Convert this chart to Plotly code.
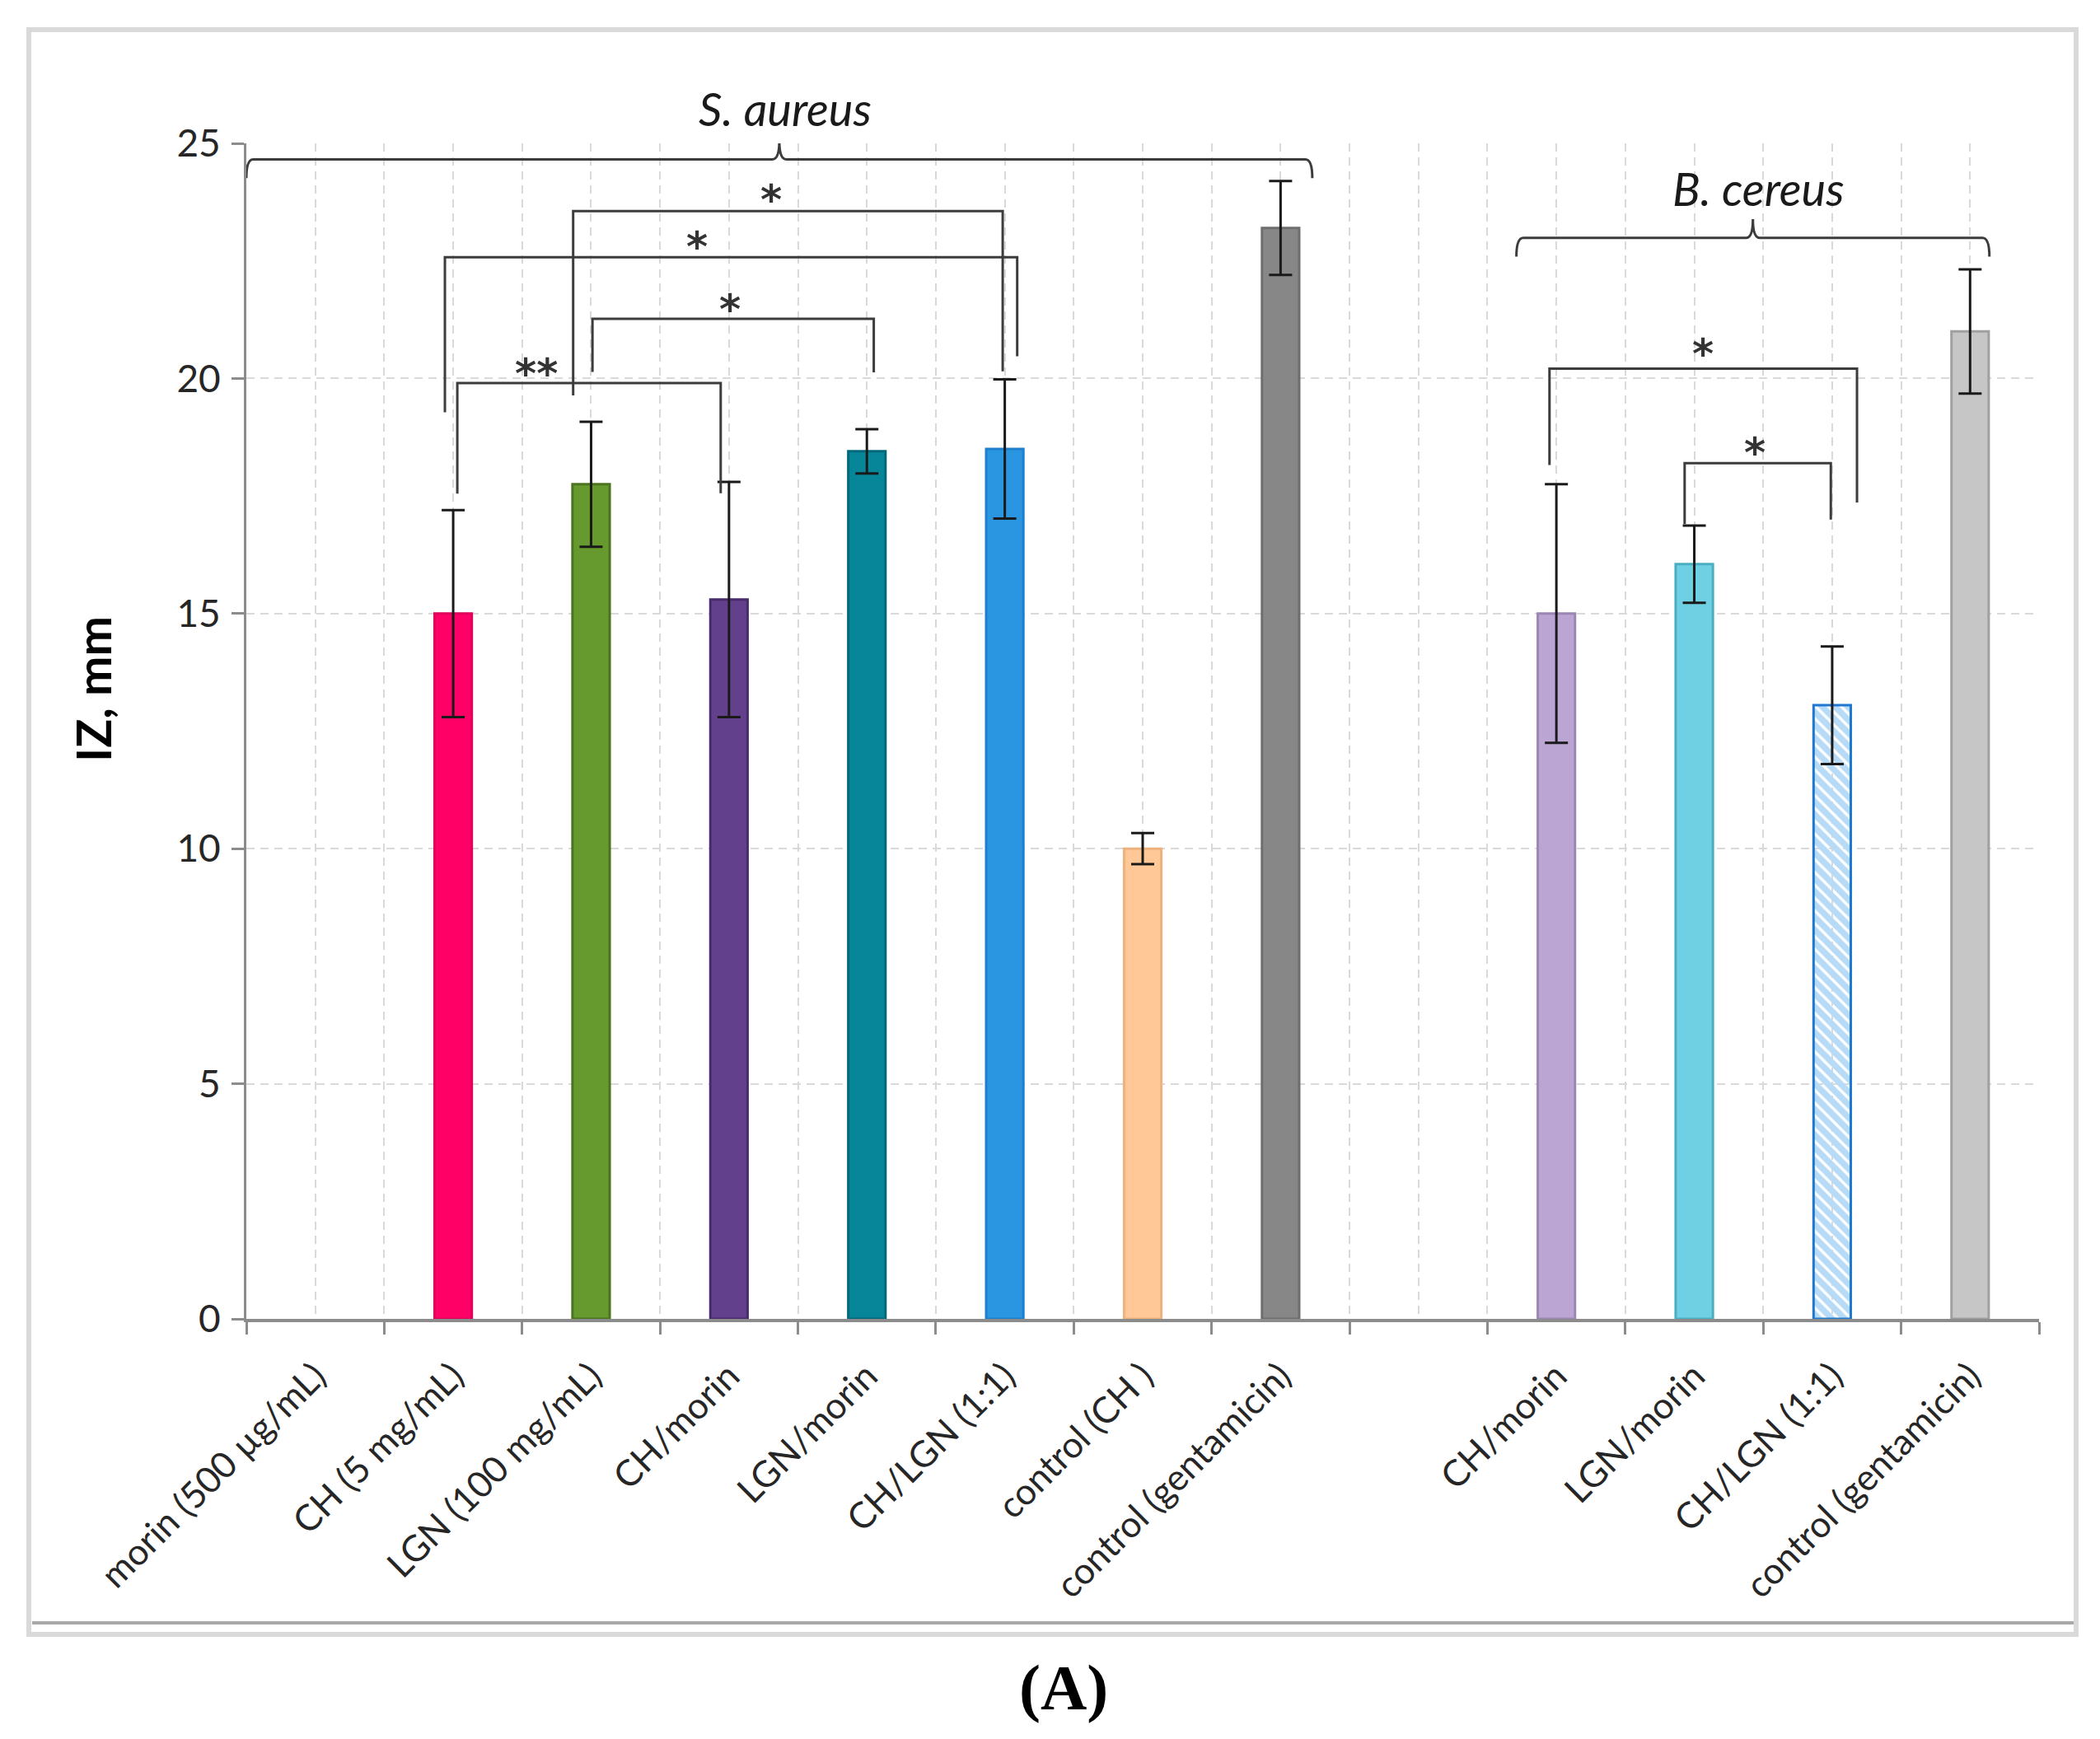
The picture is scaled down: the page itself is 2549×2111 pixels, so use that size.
import plotly.graph_objects as go

# ---------------- data ----------------
categories = ["morin (500 µg/mL)", "CH (5 mg/mL)", "LGN (100 mg/mL)", "CH/morin",
              "LGN/morin", "CH/LGN (1:1)", "control (CH )", "control (gentamicin)",
              "", "CH/morin", "LGN/morin", "CH/LGN (1:1)", "control (gentamicin)"]
iz_mm = [None, 15.0, 17.75, 15.3, 18.45, 18.5, 10.0, 23.2,
         None, 15.0, 16.05, 13.05, 21.0]
iz_err = [None, 2.2, 1.33, 2.5, 0.47, 1.48, 0.33, 1.0,
          None, 2.75, 0.82, 1.25, 1.32]
bar_fill = [None, "#FF0066", "#66992E", "#63408C", "#078599", "#2A96E2", "#FFC896", "#878787",
            None, "#BBA5D3", "#70D0E3", "#B7DBF6", "#C6C6C6"]
bar_edge = [None, "#E0005A", "#4B7320", "#4A2C6C", "#00687A", "#1E80CC", "#EDB27E", "#6E6E6E",
            None, "#9C87B4", "#4AAEC2", "#1F78D0", "#A0A0A0"]
bar_hatch = ["", "", "", "", "", "", "", "", "", "", "", "\\", ""]
hatch_color = [None, None, None, None, None, None, None, None,
               None, None, None, "#1F7CD4", None]
y_ticks = [0, 5, 10, 15, 20, 25]
y_range = [0, 25]

# significance brackets
sig_labels = ["**", "*", "*", "*", "*", "*"]
sig_left = [1, 2, 1, 2, 9, 10]
sig_right = [3, 4, 5, 5, 11, 11]
sig_top = [19.9, 21.27, 22.58, 23.56, 20.21, 18.2]
sig_left_foot = [17.55, 20.14, 19.28, 19.64, 18.16, 16.9]
sig_right_foot = [17.56, 20.13, 20.47, 20.15, 17.36, 17.0]
sig_star_y = [20.34, 21.71, 23.04, 24.03, 20.76, 18.65]

# group braces
group_names = ["<i>S. aureus</i>", "<i>B. cereus</i>"]
group_first = [0, 9]
group_last = [7, 12]
group_y = [24.66, 22.99]
group_label_y = [25.75, 24.05]

# ---------------- layout geometry (pixels) ----------------
W, H = 2549, 2111
L, R, T, B = 291, 82, 166, 518
PW, PH = W - L - R, H - T - B


def px(x):
    return (x - L) / PW


def py(y):
    return (H - B - y) / PH


def y_paper(v):
    return (v - y_range[0]) / (y_range[1] - y_range[0])


# style offsets of bracket legs relative to bar centres
leg_dx_left = [0.03, 0.01, -0.06, -0.13, -0.05, -0.07]
leg_dx_right = [-0.06, 0.05, 0.09, -0.015, 0.18, -0.01]
star_frac = [0.30, 0.49, 0.44, 0.46, 0.50, 0.48]

idx = [i for i, v in enumerate(iz_mm) if v is not None]

fig = go.Figure()
fig.add_trace(go.Bar(
    x=idx,
    y=[iz_mm[i] for i in idx],
    width=0.27,
    marker=dict(
        color=[bar_fill[i] for i in idx],
        line=dict(color=[bar_edge[i] for i in idx], width=3),
        pattern=dict(shape=[bar_hatch[i] for i in idx],
                     fgcolor=[hatch_color[i] or bar_fill[i] for i in idx],
                     bgcolor=[bar_fill[i] for i in idx],
                     size=11, solidity=0.7, fillmode="replace"),
    ),
    error_y=dict(type="data", array=[iz_err[i] for i in idx], color="#1A1A1A",
                 thickness=3, width=14),
    showlegend=False,
))

grid = dict(gridcolor="#D9D9D9", gridwidth=2, griddash="10px,7px")
fig.update_xaxes(
    range=[-0.5, len(categories) - 0.5],
    tickmode="array", tickvals=list(range(len(categories))), ticktext=categories,
    tickangle=-45, ticks="", showgrid=True, **grid,
    showline=True, linecolor="#8C8C8C", linewidth=4, zeroline=False,
    tickfont=dict(family="Lato", size=44, color="#262626"),
    ticklabelstandoff=22,
    minor=dict(tickmode="array", tickvals=[i - 0.5 for i in range(len(categories) + 1)],
               ticks="outside", ticklen=15, tickwidth=3, tickcolor="#8C8C8C",
               showgrid=True, **grid),
)
fig.update_yaxes(
    range=y_range, tickmode="array", tickvals=y_ticks,
    ticks="outside", ticklen=15, tickwidth=3, tickcolor="#8C8C8C",
    showline=True, linecolor="#8C8C8C", linewidth=3, zeroline=False,
    showgrid=True, **grid,
    tickfont=dict(family="Lato", size=46, color="#262626"),
    ticklabelstandoff=4,
)

shapes = []
annotations = []
line_style = dict(color="#3C3C3C", width=3)

# significance brackets
for k in range(len(sig_labels)):
    xl = sig_left[k] + leg_dx_left[k]
    xr = sig_right[k] + leg_dx_right[k]
    path = (f"M {xl},{sig_left_foot[k]} L {xl},{sig_top[k]} "
            f"L {xr},{sig_top[k]} L {xr},{sig_right_foot[k]}")
    shapes.append(dict(type="path", xref="x", yref="y", path=path, line=line_style,
                       layer="above"))
    annotations.append(dict(x=xl + star_frac[k] * (xr - xl), y=sig_star_y[k], xref="x", yref="y",
                            xanchor="center", yanchor="middle",
                            text="<b>" + sig_labels[k] + "</b>", showarrow=False, yshift=-14,
                            font=dict(family="DejaVu Sans", size=50, color="#333333")))

# group braces
brace_left_dx = [None, -0.29]
brace_right_dx = [0.23, 0.14]
for g in range(len(group_names)):
    x0 = -0.5 if brace_left_dx[g] is None else group_first[g] + brace_left_dx[g]
    x1 = group_last[g] + brace_right_dx[g]
    xm = (x0 + x1) / 2
    y = group_y[g]
    drop, rise, d = 0.4, 0.4, 0.05
    path = (f"M {x0},{y - drop} Q {x0},{y} {x0 + d},{y} L {xm - d},{y} "
            f"Q {xm},{y} {xm},{y + rise} Q {xm},{y} {xm + d},{y} "
            f"L {x1 - d},{y} Q {x1},{y} {x1},{y - drop}")
    shapes.append(dict(type="path", xref="x", yref="y", path=path, line=line_style,
                       layer="above"))
    annotations.append(dict(x=xm + 0.04, y=y_paper(group_label_y[g]), xref="x", yref="paper",
                            xanchor="center", yanchor="middle",
                            text=group_names[g], showarrow=False,
                            font=dict(family="Lato", size=56, color="#1A1A1A")))

# chart frame (Excel-style border)
shapes.append(dict(type="rect", xref="paper", yref="paper",
                   x0=px(27), x1=px(2512), y0=py(1976), y1=py(28),
                   line=dict(color="#D9D9D9", width=6), layer="below"))
shapes.append(dict(type="line", xref="paper", yref="paper",
                   x0=px(31), x1=px(2509), y0=py(1962), y1=py(1962),
                   line=dict(color="#A8A8A8", width=4), layer="below"))

# axis title and panel label
annotations.append(dict(x=px(104), y=py(829), xref="paper", yref="paper",
                        xanchor="center", yanchor="middle",
                        text="<b>IZ, mm</b>", textangle=-90, showarrow=False,
                        font=dict(family="Lato", size=58, color="#000000")))
annotations.append(dict(x=px(1283), y=py(2040), xref="paper", yref="paper",
                        xanchor="center", yanchor="middle",
                        text="<b>(A)</b>", showarrow=False,
                        font=dict(family="Liberation Serif", size=78, color="#000000")))

fig.update_layout(
    width=W, height=H,
    margin=dict(l=L, r=R, t=T, b=B, autoexpand=False),
    paper_bgcolor="white", plot_bgcolor="white",
    shapes=shapes, annotations=annotations,
    showlegend=False,
)

fig.write_html("out.html")
